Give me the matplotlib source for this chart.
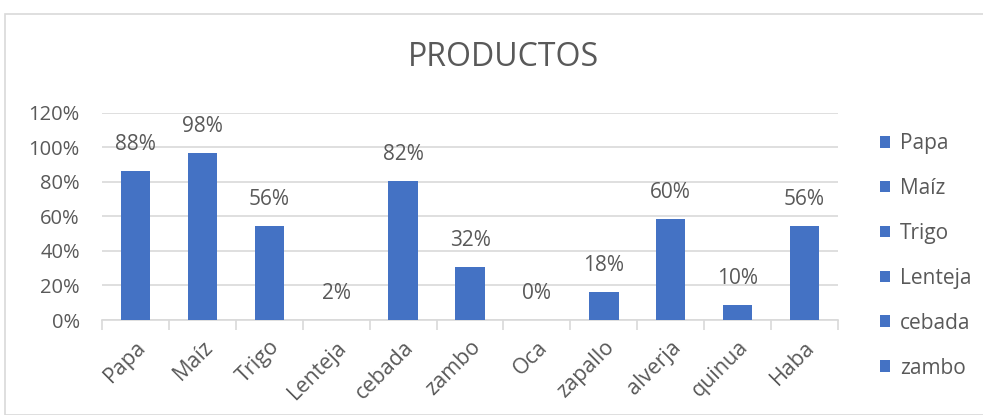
import matplotlib
matplotlib.use("Agg")
import matplotlib.pyplot as plt
from matplotlib.patches import Rectangle

# datos del grafico
productos = ["Papa", "Maíz", "Trigo", "Lenteja", "cebada", "zambo",
             "Oca", "zapallo", "alverja", "quinua", "Haba"]
# etiquetas de datos tal como aparecen
porcentajes = [0.88, 0.98, 0.56, 0.02, 0.82, 0.32, 0.00, 0.18, 0.60, 0.10, 0.56]
# altura de las barras (quedan un poco por debajo de la etiqueta)
alturas = [0.865, 0.965, 0.545, 0.0, 0.805, 0.305, 0.0, 0.163, 0.585, 0.085, 0.545]
etiquetas_y = ["0%", "20%", "40%", "60%", "80%", "100%", "120%"]

azul = "#4472C4"
gris_texto = "#595959"
gris_linea = "#D9D9D9"

plt.rcParams['font.family'] = ['Open Sans', 'DejaVu Sans']

fig = plt.figure(figsize=(9.83, 4.15), dpi=100)
# marco del area del grafico
fig.patches.append(Rectangle((5 / 983, 0), 1.0, 1 - 14 / 415, transform=fig.transFigure,
                             fill=False, edgecolor="#D9D9D9", linewidth=1.2))

ax = fig.add_axes([0.1038, 0.2289, 0.7487, 0.4995])
x = range(len(productos))
barras = ax.bar(x, alturas, width=0.44, color=azul, zorder=3)

for xi, h, v in zip(x, alturas, porcentajes):
    ax.annotate("{:.0%}".format(v), (xi, h), xytext=(0, 11.5), textcoords="offset points",
                ha="center", va="bottom", fontsize=15, color=gris_texto)

ax.set_xlim(-0.5, len(productos) - 0.5)
ax.set_ylim(0, 1.2)
ax.set_yticks([i * 0.2 for i in range(len(etiquetas_y))])
ax.set_yticklabels(etiquetas_y)
ax.yaxis.grid(True, color=gris_linea, linewidth=1.2, zorder=0)
ax.tick_params(axis="y", length=0, pad=16, labelsize=14.5, labelcolor=gris_texto)

ax.set_xticks(list(x))
ax.set_xticklabels(productos, rotation=45, ha="right", va="top", rotation_mode="anchor")
ax.set_xticks([i - 0.5 for i in range(len(productos) + 1)], minor=True)
ax.tick_params(axis="x", which="major", length=0, pad=12, labelsize=15.5, labelcolor=gris_texto)
ax.tick_params(axis="x", which="minor", length=7, width=1.2, color=gris_linea)

for lado in ["top", "right", "left"]:
    ax.spines[lado].set_visible(False)
ax.spines["bottom"].set_color(gris_linea)
ax.spines["bottom"].set_linewidth(1.2)

fig.text(503 / 983, 1 - 58 / 415, "PRODUCTOS", ha="center", va="center",
         fontsize=23, color=gris_texto)

# leyenda (solo se ven las primeras seis)
leyenda = fig.legend(barras[:6], productos[:6], loc="upper left",
                     bbox_to_anchor=(880 / 983, 1 - 133 / 415), frameon=False,
                     fontsize=15, labelcolor=gris_texto, handlelength=0.5,
                     handleheight=0.5, handletextpad=0.45, labelspacing=1.15,
                     borderpad=0, borderaxespad=0)

plt.savefig("out.png", dpi=100)
